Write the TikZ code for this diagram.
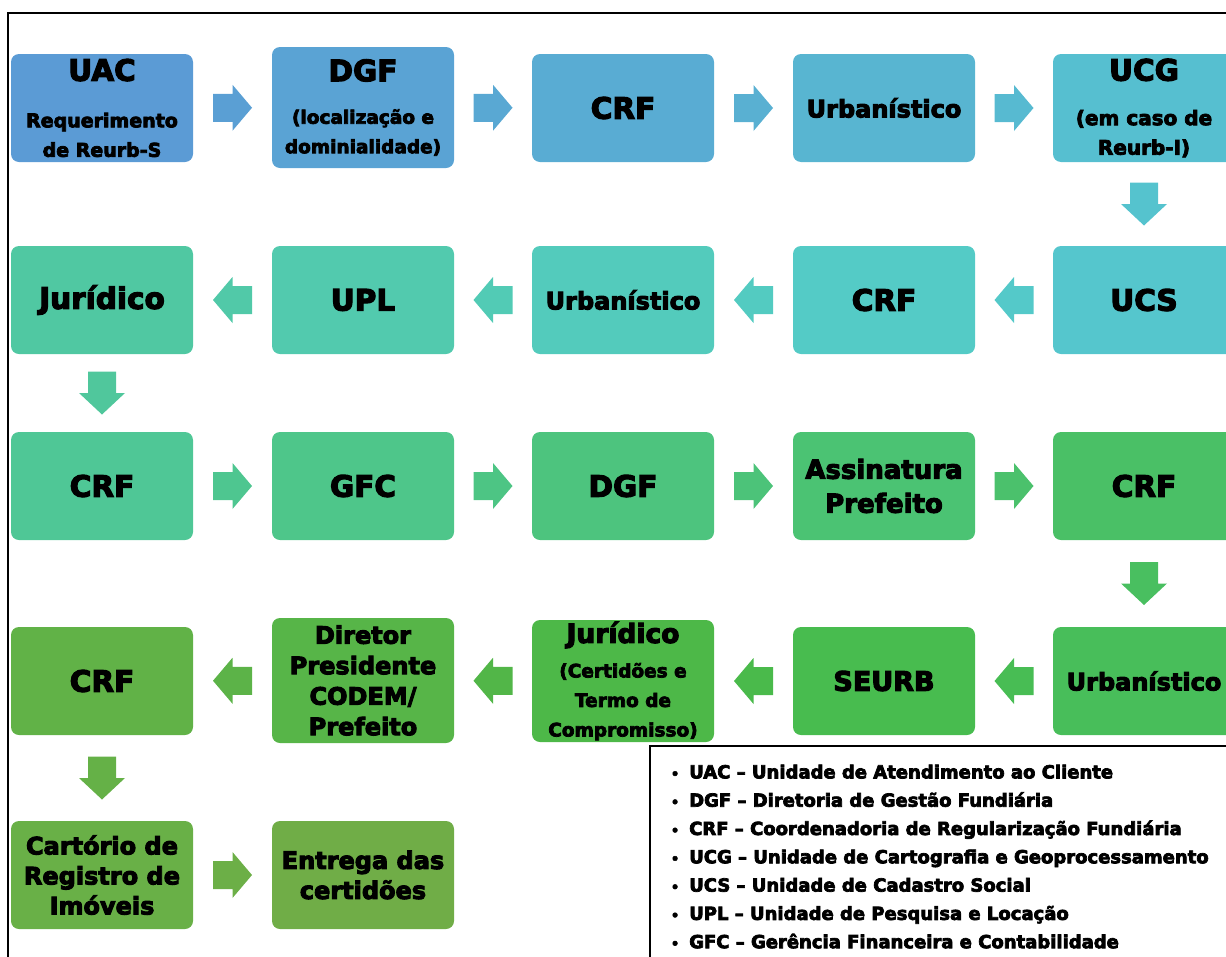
\documentclass[tikz,border=0pt]{standalone}
\usepackage{fontspec}
\setmainfont{DejaVu Sans}[BoldFont={DejaVu Sans Bold}, BoldFeatures={FakeBold=4}]
\usetikzlibrary{calc}
\definecolor{k1}{HTML}{5B9BD5}
\definecolor{k2}{HTML}{5AA3D4}
\definecolor{k3}{HTML}{59ACD3}
\definecolor{k4}{HTML}{58B5D1}
\definecolor{k5}{HTML}{56BFD0}
\definecolor{k6}{HTML}{55C6CD}
\definecolor{k7}{HTML}{54CBC6}
\definecolor{k8}{HTML}{53CBBC}
\definecolor{k9}{HTML}{52CAAE}
\definecolor{k10}{HTML}{50C8A2}
\definecolor{k11}{HTML}{4FC796}
\definecolor{k12}{HTML}{4EC68A}
\definecolor{k13}{HTML}{4DC47E}
\definecolor{k14}{HTML}{4BC373}
\definecolor{k15}{HTML}{4AC066}
\definecolor{k16}{HTML}{48BE5A}
\definecolor{k17}{HTML}{48BC4F}
\definecolor{k18}{HTML}{4DB848}
\definecolor{k19}{HTML}{57B548}
\definecolor{k20}{HTML}{61B247}
\definecolor{k21}{HTML}{69B047}
\definecolor{k22}{HTML}{70AD47}
\newcommand\szT{\fontsize{29.5}{29.5}\selectfont}
\begin{document}
\begin{tikzpicture}[x=1pt,y=-1pt,
  flowbox/.style={rounded corners=8pt, minimum width=182pt, minimum height=108pt,
    align=center, inner sep=0pt, font=\bfseries\szT},
  rarr/.pic={\fill (-19.5,-14) -- (0,-14) -- (0,-23) -- (19.5,0) -- (0,23) -- (0,14) -- (-19.5,14) -- cycle;},
  larr/.pic={\fill (19.5,-14) -- (0,-14) -- (0,-23) -- (-19.5,0) -- (0,23) -- (0,14) -- (19.5,14) -- cycle;},
  darr/.pic={\fill (-14,-21.5) -- (14,-21.5) -- (14,0) -- (23,0) -- (0,21.5) -- (-23,0) -- (-14,0) -- cycle;},
  frameline/.style={line width=1.5pt, black}
]
\useasboundingbox (0,0) rectangle (1226,956);
% outer frame
\draw[frameline] (8,975) -- (8,13) -- (1245,13);

% row 1
\node[flowbox, fill=k1] (uac) at (102,108)
  {UAC\\[17pt]{\fontsize{19}{26.5}\selectfont Requerimento}\\{\fontsize{19}{26.5}\selectfont de Reurb-S}};
\node[flowbox, fill=k2, minimum height=121pt] (dgfa) at (363,107.5)
  {DGF\\[13pt]{\fontsize{18.5}{24.5}\selectfont (localização e}\\{\fontsize{18.5}{24.5}\selectfont dominialidade)}};
\node[flowbox, fill=k3] (crfa) at (623,108) {CRF};
\node[flowbox, fill=k4, font=\bfseries\fontsize{24}{24}\selectfont] (urba) at (884,108) {Urbanístico};
\node[flowbox, fill=k5] (ucg) at (1144,108)
  {UCG\\[15pt]{\fontsize{20}{27}\selectfont (em caso de}\\{\fontsize{20}{27}\selectfont Reurb-I)}};

% row 2
\node[flowbox, fill=k6] (ucs) at (1144,300) {UCS};
\node[flowbox, fill=k7] (crfb) at (884,300) {CRF};
\node[flowbox, fill=k8, font=\bfseries\fontsize{24}{24}\selectfont] (urbb) at (623,300) {Urbanístico};
\node[flowbox, fill=k9] (upl) at (363,300) {UPL};
\node[flowbox, fill=k10] (jura) at (102,300) {Jurídico};

% row 3
\node[flowbox, fill=k11] (crfc) at (102,486) {CRF};
\node[flowbox, fill=k12] (gfc) at (363,486) {GFC};
\node[flowbox, fill=k13] (dgfb) at (623,486) {DGF};
\node[flowbox, fill=k14, font=\bfseries\fontsize{26}{34}\selectfont] (assin) at (884,486) {Assinatura\\Prefeito};
\node[flowbox, fill=k15] (crfd) at (1144,486) {CRF};

% row 4
\node[flowbox, fill=k16, font=\bfseries\fontsize{24}{24}\selectfont] (urbc) at (1144,681) {Urbanístico};
\node[flowbox, fill=k17, font=\bfseries\fontsize{27}{27}\selectfont] (seurb) at (884,681) {SEURB};
\node[flowbox, fill=k18, minimum height=122pt] (jurb) at (623,681)
  {{\fontsize{26.5}{26.5}\selectfont Jurídico}\\[5pt]{\fontsize{18.5}{23}\selectfont (Certidões e}\\{\fontsize{18.5}{23}\selectfont Termo de}\\{\fontsize{18.5}{23}\selectfont Compromisso)}};
\node[flowbox, fill=k19, minimum height=125pt, font=\bfseries\fontsize{24}{30.5}\selectfont] (dir) at (363,680.5)
  {Diretor\\Presidente\\CODEM/\\Prefeito};
\node[flowbox, fill=k20] (crfe) at (102,681) {CRF};

% row 5
\node[flowbox, fill=k21, font=\bfseries\fontsize{24}{30}\selectfont] (cart) at (102,875) {Cartório de\\Registro de\\Imóveis};
\node[flowbox, fill=k22, font=\bfseries\fontsize{24}{30}\selectfont] (entr) at (363,875) {Entrega das\\certidões};

% arrows
\pic[color=k1!50!k2] at ($(uac.east)!.5!(dgfa.west)$) {rarr};
\pic[color=k2!50!k3] at ($(dgfa.east)!.5!(crfa.west)$) {rarr};
\pic[color=k3!50!k4] at ($(crfa.east)!.5!(urba.west)$) {rarr};
\pic[color=k4!50!k5] at ($(urba.east)!.5!(ucg.west)$) {rarr};
\pic[color=k5!50!k6] at ($(ucg.south)!.5!(ucs.north)$) {darr};
\pic[color=k6!50!k7] at ($(ucs.west)!.5!(crfb.east)$) {larr};
\pic[color=k7!50!k8] at ($(crfb.west)!.5!(urbb.east)$) {larr};
\pic[color=k8!50!k9] at ($(urbb.west)!.5!(upl.east)$) {larr};
\pic[color=k9!50!k10] at ($(upl.west)!.5!(jura.east)$) {larr};
\pic[color=k10!50!k11] at ($(jura.south)!.5!(crfc.north)$) {darr};
\pic[color=k11!50!k12] at ($(crfc.east)!.5!(gfc.west)$) {rarr};
\pic[color=k12!50!k13] at ($(gfc.east)!.5!(dgfb.west)$) {rarr};
\pic[color=k13!50!k14] at ($(dgfb.east)!.5!(assin.west)$) {rarr};
\pic[color=k14!50!k15] at ($(assin.east)!.5!(crfd.west)$) {rarr};
\pic[color=k15!50!k16] at ($(crfd.south)!.5!(urbc.north)$) {darr};
\pic[color=k16!50!k17] at ($(urbc.west)!.5!(seurb.east)$) {larr};
\pic[color=k17!50!k18] at ($(seurb.west)!.5!(jurb.east)$) {larr};
\pic[color=k18!50!k19] at ($(jurb.west)!.5!(dir.east)$) {larr};
\pic[color=k19!50!k20] at ($(dir.west)!.5!(crfe.east)$) {larr};
\pic[color=k20!50!k21] at ($(crfe.south)!.5!(cart.north)$) {darr};
\pic[color=k21!50!k22] at ($(cart.east)!.5!(entr.west)$) {rarr};

% legend
\draw[frameline] (650,975) -- (650,746) -- (1245,746);
\newcommand\lgb{\makebox[18.3pt][l]{\fontsize{13}{13}\selectfont\textbullet}}
\node[anchor=north west, inner sep=0pt, align=left, font=\bfseries\fontsize{18}{28.3}\selectfont] (legend) at (670.7,764.5)
  {\lgb UAC – Unidade de Atendimento ao Cliente\\
   \lgb DGF – Diretoria de Gestão Fundiária\\
   \lgb CRF – Coordenadoria de Regularização Fundiária\\
   \lgb UCG – Unidade de Cartografia e Geoprocessamento\\
   \lgb UCS – Unidade de Cadastro Social\\
   \lgb UPL – Unidade de Pesquisa e Locação\\
   \lgb GFC – Gerência Financeira e Contabilidade};
\end{tikzpicture}
\end{document}
